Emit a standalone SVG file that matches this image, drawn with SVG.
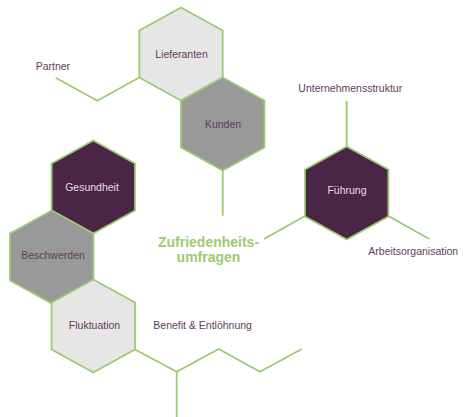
<svg xmlns="http://www.w3.org/2000/svg" xmlns:xlink="http://www.w3.org/1999/xlink" width="463" height="417" viewBox="0 0 463 417">
<style>
.hex{stroke:#9cca72;stroke-width:1.8;stroke-linejoin:miter}
.light{fill:#e6e6e6}
.mid{fill:#999999}
.dark{fill:#4a2545}
.con{fill:none;stroke:#9cca72;stroke-width:1.8}
.lbl{font-family:"Liberation Sans",Arial,sans-serif;font-size:10.5px;fill:#5e3d5c}
.lbl-w{font-family:"Liberation Sans",Arial,sans-serif;font-size:10.5px;fill:#e8dde8}
.mid-lbl{text-anchor:middle}
.title{font-family:"Liberation Sans",Arial,sans-serif;font-size:14px;font-weight:bold;fill:#9cca72;text-anchor:middle}
</style>
<defs>
<path id="hex" d="M0,-46.5 L41.7,-23.5 L41.7,23.5 L0,46.5 L-41.7,23.5 L-41.7,-23.5 Z"/>
</defs>
<g id="connectors">
<polyline class="con" points="55.7,77.7 97.3,100.7 139.3,77.5"/>
<line class="con" x1="222.7" y1="170.5" x2="222.7" y2="215.7"/>
<line class="con" x1="346.7" y1="146.5" x2="346.7" y2="100.7"/>
<line class="con" x1="305" y1="216" x2="264" y2="239"/>
<line class="con" x1="388.4" y1="216" x2="429.3" y2="239"/>
<polyline class="con" points="135,349.5 176.7,371.7 218.7,349 260,371.7 301.7,349"/>
<line class="con" x1="176.7" y1="371.7" x2="176.7" y2="417"/>
</g>
<g id="lieferanten">
<use xlink:href="#hex" class="hex light" x="181" y="54"/>
<text class="lbl mid-lbl" x="181.5" y="58">Lieferanten</text>
</g>
<g id="kunden">
<use xlink:href="#hex" class="hex mid" x="222.7" y="124"/>
<text class="lbl mid-lbl" x="223" y="128.3">Kunden</text>
</g>
<g id="gesundheit">
<use xlink:href="#hex" class="hex dark" x="93.3" y="187"/>
<text class="lbl-w mid-lbl" x="92" y="190.7">Gesundheit</text>
</g>
<g id="beschwerden">
<use xlink:href="#hex" class="hex mid" x="51.7" y="257"/>
<text class="lbl mid-lbl" x="53" y="259.3">Beschwerden</text>
</g>
<g id="fluktuation">
<use xlink:href="#hex" class="hex light" x="93.3" y="326"/>
<text class="lbl mid-lbl" x="94.5" y="329">Fluktuation</text>
</g>
<g id="fuehrung">
<use xlink:href="#hex" class="hex dark" x="346.7" y="193"/>
<text class="lbl-w mid-lbl" x="347" y="194.3">Führung</text>
</g>
<g id="partner"><text class="lbl" x="35.7" y="69.5">Partner</text></g>
<g id="unternehmensstruktur"><text class="lbl" x="298.3" y="91.7">Unternehmensstruktur</text></g>
<g id="arbeitsorganisation"><text class="lbl" x="368.3" y="255">Arbeitsorganisation</text></g>
<g id="benefit"><text class="lbl" x="153.3" y="329">Benefit &amp; Entlöhnung</text></g>
<g id="zufriedenheit">
<text class="title" x="208.5" y="246.7">Zufriedenheits-</text>
<text class="title" x="208.5" y="262">umfragen</text>
</g>
</svg>
